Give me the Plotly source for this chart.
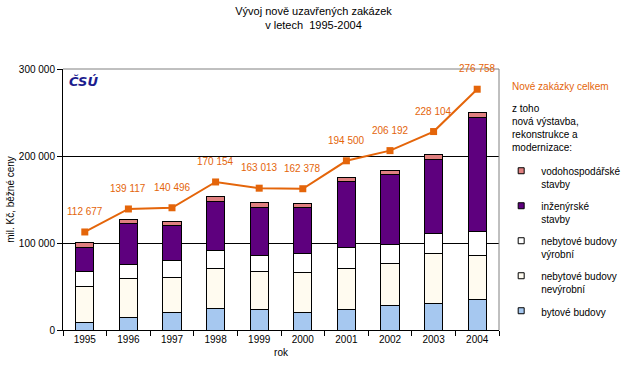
import plotly.graph_objects as go

years = ["1995", "1996", "1997", "1998", "1999", "2000", "2001", "2002", "2003", "2004"]
total = [112677, 139117, 140496, 170154, 163013, 162378, 194500, 206192, 228104, 276758]
bytove = [9000, 14600, 20300, 24900, 23800, 20300, 23800, 28400, 30700, 34500]
nevyrobni = [41200, 44800, 40200, 46000, 43600, 46000, 47100, 48300, 57400, 51300]
vyrobni = [17200, 16100, 19600, 20700, 18400, 21800, 24100, 21800, 23000, 27200]
inzenyrske = [27600, 47100, 40200, 56300, 55200, 52900, 75900, 80500, 85100, 131500]
vodohosp = [5800, 4600, 4600, 5000, 5800, 4600, 4600, 4600, 5700, 5700]

series = [
    ("bytové budovy", bytove, "#A6C8F0"),
    ("nebytové budovy<br>nevýrobní", nevyrobni, "#FFFBF0"),
    ("nebytové budovy<br>výrobní", vyrobni, "#FFFFFF"),
    ("inženýrské<br>stavby", inzenyrske, "#5E007E"),
    ("vodohospodářské<br>stavby", vodohosp, "#E08080"),
]

FONT = "Liberation Sans, Arial, sans-serif"
ORANGE = "#E4650A"

fig = go.Figure()
for i, (name, vals, col) in enumerate(series):
    fig.add_trace(go.Bar(
        x=years, y=vals, name=name, showlegend=False,
        marker=dict(color=col, line=dict(color="black", width=1)),
    ))

fig.add_trace(go.Scatter(
    x=years, y=total, name="Nové zakázky celkem", mode="lines+markers",
    line=dict(color=ORANGE, width=2),
    marker=dict(symbol="square", size=7, color=ORANGE),
    showlegend=False,
))

# legend entries with small square symbols (top series first)
for i, (name, vals, col) in enumerate(reversed(series)):
    fig.add_trace(go.Scatter(
        x=[years[0]], y=[None], name=name, mode="markers", legendgroup=f"g{i}",
        marker=dict(symbol="square", size=6, color=col, line=dict(color="black", width=1)),
    ))

# value labels above the line points (category index positions)
labels = [
    dict(x=idx, y=v, text=f"{v:,}".replace(",", " "), showarrow=False,
         yshift=13, xanchor="center", yanchor="bottom", xref="x", yref="y",
         font=dict(color=ORANGE, size=10, family=FONT))
    for idx, v in enumerate(total)
]

fig.update_layout(
    width=627, height=390,
    margin=dict(l=63, r=128, t=69, b=60, autoexpand=False),
    paper_bgcolor="white", plot_bgcolor="white",
    barmode="stack", bargap=0.58,
    separators=", ",
    font=dict(family=FONT, size=10, color="black"),
    title=dict(text="Vývoj nově uzavřených zakázek<br>v letech  1995-2004",
               x=0.5, xanchor="center", y=0.962, yanchor="top",
               font=dict(size=11, family=FONT, color="black")),
    showlegend=True,
    legend=dict(x=1.005, xanchor="left", y=0.66, yanchor="top",
                traceorder="grouped", valign="top",
                tracegroupgap=6, itemwidth=30,
                font=dict(size=10, family=FONT), bgcolor="rgba(0,0,0,0)"),
    xaxis=dict(type="category", categoryorder="array", categoryarray=years,
               range=[-0.5, len(years) - 0.5], automargin=False,
               showline=True, linecolor="black", linewidth=1,
               ticks="outside", tickson="boundaries", ticklen=5, tickcolor="black",
               title=dict(text="rok", standoff=4, font=dict(size=10)),
               tickfont=dict(size=10)),
    yaxis=dict(range=[0, 300000], dtick=100000, tickformat=",d", automargin=False,
               showline=True, linecolor="black", linewidth=1,
               ticks="outside", ticklen=5, tickcolor="black",
               showgrid=True, gridcolor="black", gridwidth=1, zeroline=False,
               title=dict(text="mil. Kč, běžné ceny", standoff=2, font=dict(size=10)),
               tickfont=dict(size=10)),
    shapes=[
        dict(type="line", xref="paper", yref="paper", x0=0, x1=1, y0=1, y1=1,
             line=dict(color="#808080", width=1)),
        dict(type="line", xref="paper", yref="paper", x0=1, x1=1, y0=0, y1=1,
             line=dict(color="#808080", width=1)),
    ],
    annotations=labels + [
        dict(text="<b><i>ČSÚ</i></b>", xref="paper", yref="paper", x=0.01, y=0.99,
             xanchor="left", yanchor="top", showarrow=False,
             font=dict(size=13, color="#1C1C8E", family="DejaVu Sans, sans-serif")),
        dict(text="Nové zakázky celkem", xref="paper", yref="paper",
             x=(510 - 63) / 436, y=(330 - 86) / 261, xanchor="left", yanchor="middle",
             showarrow=False, font=dict(size=10, color=ORANGE, family=FONT)),
        dict(text="z toho<br>nová výstavba,<br>rekonstrukce a<br>modernizace:",
             xref="paper", yref="paper", align="left",
             x=(510 - 63) / 436, y=(330 - 101) / 261, xanchor="left", yanchor="top",
             showarrow=False, font=dict(size=10, color="black", family=FONT)),
    ],
)

fig.write_html("out.html", config={"displayModeBar": False},
               post_script="document.body.style.margin='0';")
